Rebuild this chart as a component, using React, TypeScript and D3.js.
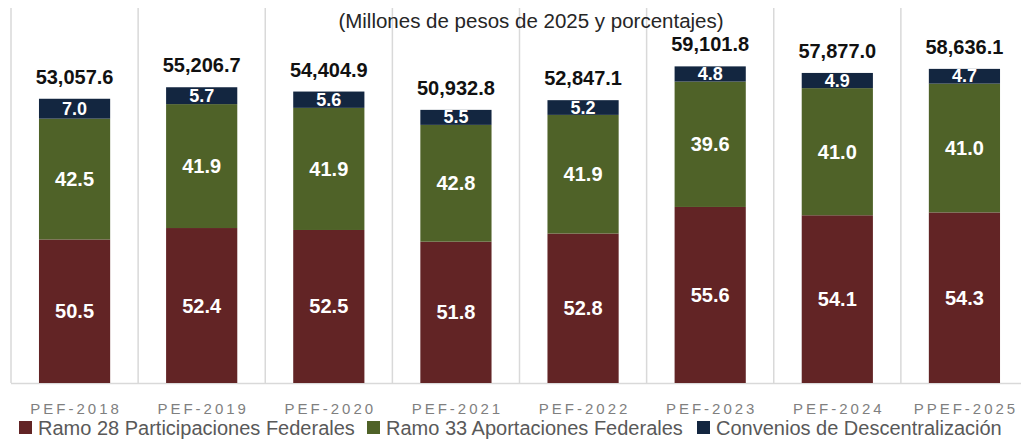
import React from "react";
import * as d3 from "d3";

const categories = ["PEF-2018", "PEF-2019", "PEF-2020", "PEF-2021", "PEF-2022", "PEF-2023", "PEF-2024", "PPEF-2025"];
const totals = [53057.6, 55206.7, 54404.9, 50932.8, 52847.1, 59101.8, 57877.0, 58636.1];
const ramo28 = [50.5, 52.4, 52.5, 51.8, 52.8, 55.6, 54.1, 54.3];
const ramo33 = [42.5, 41.9, 41.9, 42.8, 41.9, 39.6, 41.0, 41.0];
const convenios = [7.0, 5.7, 5.6, 5.5, 5.2, 4.8, 4.9, 4.7];
const seriesNames = ["Ramo 28 Participaciones Federales", "Ramo 33 Aportaciones Federales", "Convenios de Descentralización"];
const seriesColors = ["#622425", "#4f6228", "#132640"];
const title = "(Millones de pesos de 2025 y porcentajes)";

const W = 1021;
const H = 442;
const FONT = "'Liberation Sans', Arial, sans-serif";

export default function App() {
  const x = d3.scaleBand<string>().domain(categories).range([11, 1028]).paddingInner(0.44).paddingOuter(0.22);
  const y = d3.scaleLinear().domain([0, 70000]).range([383, 8]);
  const series = [ramo28, ramo33, convenios];
  const step = x.step();
  const fmt = d3.format(",.1f");
  const legendX = [19, 367, 697];

  return (
    <svg width={W} height={H} style={{ position: "absolute", left: 0, top: 0, fontFamily: FONT }}>
      <rect width={W} height={H} fill="#ffffff" />
      {d3.range(categories.length + 1).map((i) => {
        const gx = 11 + i * step;
        return <line key={"g" + i} x1={gx} x2={gx} y1={8} y2={383} stroke="#d9d9d9" strokeWidth={1.5} />;
      })}
      <line x1={11} x2={W} y1={383.5} y2={383.5} stroke="#d9d9d9" strokeWidth={1.5} />
      <text x={531} y={28} textAnchor="middle" fontSize={20.5} fill="#262626">{title}</text>
      {categories.map((c, i) => {
        const bx = x(c)!;
        const bw = x.bandwidth();
        let cum = 0;
        const segs = series.map((s, k) => {
          const v0 = (totals[i] * cum) / 100;
          cum += s[i];
          const v1 = (totals[i] * cum) / 100;
          const y0 = y(v0);
          const y1 = y(v1);
          return (
            <g key={k}>
              <rect x={bx} y={y1} width={bw} height={y0 - y1} fill={seriesColors[k]} />
              <text
                x={bx + bw / 2}
                y={(y0 + y1) / 2 + (k === 2 ? 6 : 7)}
                textAnchor="middle"
                fontSize={k === 2 ? 18 : 20}
                fontWeight="bold"
                fill="#ffffff"
              >
                {s[i].toFixed(1)}
              </text>
            </g>
          );
        });
        return (
          <g key={c}>
            {segs}
            <text x={bx + bw / 2} y={y(totals[i]) - 15} textAnchor="middle" fontSize={20} fontWeight="bold" fill="#111111">
              {fmt(totals[i])}
            </text>
            <text x={bx + bw / 2 + 1.5} y={414} textAnchor="middle" fontSize={15} letterSpacing={3} fill="#7f7f7f">
              {c}
            </text>
          </g>
        );
      })}
      {seriesNames.map((n, k) => (
        <g key={n}>
          <rect x={legendX[k]} y={421} width={13} height={13} fill={seriesColors[k]} />
          <text x={legendX[k] + 19} y={435} fontSize={20} fill="#595959">{n}</text>
        </g>
      ))}
    </svg>
  );
}
